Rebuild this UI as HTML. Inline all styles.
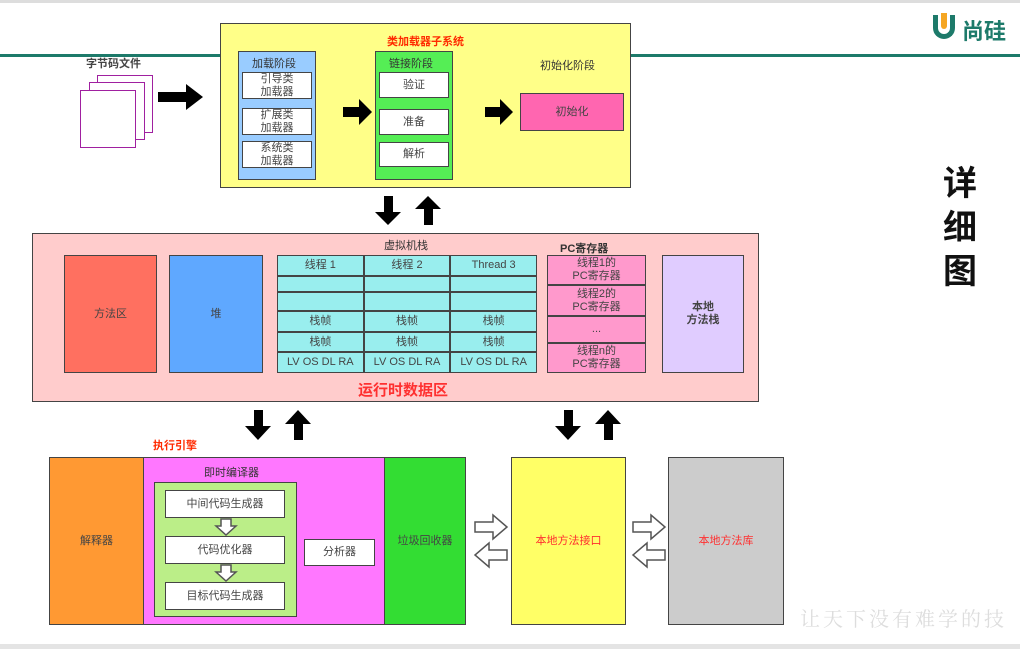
<!DOCTYPE html><html><head><meta charset="utf-8"><style>
body{margin:0;width:1020px;height:649px;background:#fff;position:relative;overflow:hidden;font-family:"Liberation Sans","Noto Sans CJK SC",sans-serif;}
.a{position:absolute;box-sizing:border-box;}
.b{border:1.5px solid #444;}
.c{display:flex;align-items:center;justify-content:center;text-align:center;font-size:11px;color:#444;line-height:1.15;}
.t{position:absolute;font-size:11px;color:#333;white-space:nowrap;}
</style></head><body>
<div class="a" style="left:0;top:0;width:1020px;height:3px;background:#ddd"></div>
<div class="a" style="left:0;top:54px;width:1020px;height:3px;background:#1d7a6a"></div>
<div class="a" style="left:0;top:644px;width:1020px;height:5px;background:#e4e4e4"></div>
<!-- logo -->
<div class="a" style="left:933px;top:15px;width:22px;height:24px;border:5px solid #1d7a6a;border-top:none;border-radius:0 0 12px 12px"></div>
<div class="a" style="left:941px;top:13px;width:6px;height:16px;background:#f5a623;border-radius:0 0 3px 3px"></div>
<div class="t" style="left:962px;top:14px;font-size:22px;color:#1d7a6a;font-weight:bold">尚硅</div>
<!-- doc icon -->
<div class="t" style="left:86px;top:55px;font-weight:bold;color:#444">字节码文件</div>
<div class="a" style="left:97px;top:75px;width:56px;height:58px;border:1.5px solid #a020a0;background:#fff"></div>
<div class="a" style="left:89px;top:82px;width:56px;height:58px;border:1.5px solid #a020a0;background:#fff"></div>
<div class="a" style="left:80px;top:90px;width:56px;height:58px;border:1.5px solid #a020a0;background:#fff"></div>
<!-- class loader -->
<div class="a b" style="left:220px;top:23px;width:411px;height:165px;background:#ffff88"></div>
<div class="t" style="left:387px;top:33px;color:#ff2a00;font-weight:bold">类加载器子系统</div>
<div class="a b" style="left:238px;top:51px;width:78px;height:129px;background:#99ccff"></div>
<div class="t" style="left:252px;top:55px">加载阶段</div>
<div class="a b c" style="left:242px;top:72px;width:70px;height:27px;background:#fff">引导类<br>加载器</div>
<div class="a b c" style="left:242px;top:108px;width:70px;height:27px;background:#fff">扩展类<br>加载器</div>
<div class="a b c" style="left:242px;top:141px;width:70px;height:27px;background:#fff">系统类<br>加载器</div>
<div class="a b" style="left:375px;top:51px;width:78px;height:129px;background:#55ee55"></div>
<div class="t" style="left:389px;top:55px">链接阶段</div>
<div class="a b c" style="left:379px;top:72px;width:70px;height:26px;background:#fff">验证</div>
<div class="a b c" style="left:379px;top:109px;width:70px;height:26px;background:#fff">准备</div>
<div class="a b c" style="left:379px;top:142px;width:70px;height:25px;background:#fff">解析</div>
<div class="t" style="left:540px;top:57px">初始化阶段</div>
<div class="a b c" style="left:520px;top:93px;width:104px;height:38px;background:#ff66b0">初始化</div>
<!-- runtime -->
<div class="a b" style="left:32px;top:233px;width:727px;height:169px;background:#ffcccc"></div>
<div class="a b c" style="left:64px;top:255px;width:93px;height:118px;background:#ff7060">方法区</div>
<div class="a b c" style="left:169px;top:255px;width:94px;height:118px;background:#5fa8ff">堆</div>
<div class="t" style="left:384px;top:237px">虚拟机栈</div>
<div class="a b" style="left:277px;top:255px;width:260px;height:118px;background:#99eeee"></div>
<div class="a" style="left:277px;top:255px;width:260px;height:118px;display:grid;grid-template-columns:1fr 1fr 1fr;grid-template-rows:21px 16px 19px 21px 20px 21px">
<div class="b c">线程 1</div><div class="b c">线程 2</div><div class="b c">Thread 3</div>
<div class="b"></div><div class="b"></div><div class="b"></div>
<div class="b"></div><div class="b"></div><div class="b"></div>
<div class="b c">栈帧</div><div class="b c">栈帧</div><div class="b c">栈帧</div>
<div class="b c">栈帧</div><div class="b c">栈帧</div><div class="b c">栈帧</div>
<div class="b c">LV OS DL RA</div><div class="b c">LV OS DL RA</div><div class="b c">LV OS DL RA</div>
</div>
<div class="t" style="left:560px;top:240px;font-weight:bold">PC寄存器</div>
<div class="a b c" style="left:547px;top:255px;width:99px;height:30px;background:#ff99cc">线程1的<br>PC寄存器</div>
<div class="a b c" style="left:547px;top:285px;width:99px;height:31px;background:#ff99cc">线程2的<br>PC寄存器</div>
<div class="a b c" style="left:547px;top:316px;width:99px;height:27px;background:#ff99cc">...</div>
<div class="a b c" style="left:547px;top:343px;width:99px;height:30px;background:#ff99cc">线程n的<br>PC寄存器</div>
<div class="a b c" style="left:662px;top:255px;width:82px;height:118px;background:#e0ccff;font-weight:bold">本地<br>方法栈</div>
<div class="t" style="left:358px;top:379px;color:#ff3030;font-size:15px;font-weight:bold">运行时数据区</div>
<!-- execution -->
<div class="t" style="left:153px;top:437px;color:#ff2a00;font-weight:bold">执行引擎</div>
<div class="a b c" style="left:49px;top:457px;width:95px;height:168px;background:#ff9933">解释器</div>
<div class="a b" style="left:143px;top:457px;width:242px;height:168px;background:#ff77ff"></div>
<div class="t" style="left:204px;top:464px">即时编译器</div>
<div class="a b" style="left:154px;top:482px;width:143px;height:135px;background:#bbee88"></div>
<div class="a b c" style="left:165px;top:490px;width:120px;height:28px;background:#fff">中间代码生成器</div>
<div class="a b c" style="left:165px;top:536px;width:120px;height:28px;background:#fff">代码优化器</div>
<div class="a b c" style="left:165px;top:582px;width:120px;height:28px;background:#fff">目标代码生成器</div>
<div class="a b c" style="left:304px;top:539px;width:71px;height:27px;background:#fff">分析器</div>
<div class="a b c" style="left:384px;top:457px;width:82px;height:168px;background:#33dd33">垃圾回收器</div>
<div class="a b c" style="left:511px;top:457px;width:115px;height:168px;background:#ffff66;color:#ff3030">本地方法接口</div>
<div class="a b c" style="left:668px;top:457px;width:116px;height:168px;background:#cccccc;color:#ff3030">本地方法库</div>
<svg class="a" style="left:0;top:0;z-index:5" width="1020" height="649">
<g fill="#000">
<polygon points="158,92 186,92 186,84 203,97 186,110 186,102 158,102"/>
<polygon points="343,107 359,107 359,99 372,112 359,125 359,117 343,117"/>
<polygon points="485,107 500,107 500,99 513,112 500,125 500,117 485,117"/>
<polygon points="384,196 393,196 393,212 401,212 388,225 375,212 384,212"/>
<polygon points="424,225 433,225 433,209 441,209 428,196 415,209 424,209"/>
<polygon points="254,410 263,410 263,426 271,426 258,440 245,426 254,426"/>
<polygon points="294,440 303,440 303,424 311,424 298,410 285,424 294,424"/>
<polygon points="564,410 573,410 573,426 581,426 568,440 555,426 564,426"/>
<polygon points="604,440 613,440 613,424 621,424 608,410 595,424 604,424"/>
</g>
<g fill="#fff" stroke="#555" stroke-width="1.5">
<polygon points="475,522 493,522 493,515 507,527 493,539 493,532 475,532"/>
<polygon points="507,550 489,550 489,543 475,555 489,567 489,560 507,560"/>
<polygon points="633,522 651,522 651,515 665,527 651,539 651,532 633,532"/>
<polygon points="665,550 647,550 647,543 633,555 647,567 647,560 665,560"/>
<polygon points="221,519 231,519 231,526 236,526 226,535 216,526 221,526"/>
<polygon points="221,565 231,565 231,572 236,572 226,581 216,572 221,572"/>
</g>
</svg>
<div class="t" style="left:943px;top:162px;font-size:34px;font-weight:bold;color:#111;line-height:44px;white-space:normal;width:40px">详<br>细<br>图</div>
<div class="t" style="left:800px;top:603px;font-size:20px;color:#ddd;font-family:'Liberation Serif','Noto Serif CJK SC',serif;letter-spacing:3px">让天下没有难学的技</div>
</body></html>
